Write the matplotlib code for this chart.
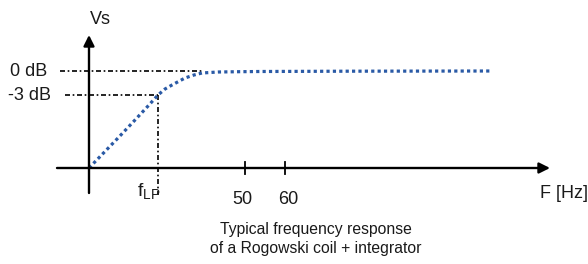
import matplotlib.pyplot as plt

plt.rcParams['font.family'] = ['Liberation Sans', 'DejaVu Sans']
plt.rcParams['mathtext.fontset'] = 'custom'
plt.rcParams['mathtext.rm'] = 'Liberation Sans'

# schematic response curve (arbitrary units, origin at the axes crossing)
freq = [0, 29, 46, 60, 69, 76, 83, 96, 105, 113, 129, 150, 171, 260, 401]
level = [0, 30, 48, 63, 73, 79, 83, 90, 93, 95, 96, 96.3, 96.5, 96.8, 97]

lvl_0db = 97
lvl_3db = 73
f_lp = 69
tick_pos = [156, 196]
tick_labels = ['50', '60']

fig = plt.figure(figsize=(5.88, 2.64), dpi=100)
ax = fig.add_axes([0, 0, 1, 1])
ax.set_xlim(-89, 499)
ax.set_ylim(-96, 168)
ax.axis('off')

txt = '#1a1a1a'

# axes with arrows
arrow = dict(arrowstyle='-|>', lw=1.7, color='black', mutation_scale=16,
             shrinkA=0, shrinkB=0)
ax.annotate('', xy=(461, 0), xytext=(-32, 0), arrowprops=arrow)
ax.annotate('', xy=(0, 133), xytext=(0, -25), arrowprops=arrow)

for p in tick_pos:
    ax.plot([p, p], [-6, 6], color='black', lw=1.3)
ax.text(153, -32, tick_labels[0], ha='center', va='center', fontsize=13, color=txt)
ax.text(199, -32, tick_labels[1], ha='center', va='center', fontsize=13, color=txt)

# reference lines
dd = (0, (3, 1.6, 1, 1.6))
ax.plot([-29, 114], [lvl_0db, lvl_0db], color='black', lw=1.2, linestyle=dd)
ax.plot([-24, f_lp], [lvl_3db, lvl_3db], color='black', lw=1.2, linestyle=dd)
ax.plot([f_lp, f_lp], [lvl_3db, -27], color='black', lw=1.2, linestyle=dd)

# response
ax.plot(freq, level, color='#2a5aa6', lw=2.3, linestyle=(0, (1, 1)))

ax.text(-79, lvl_0db, '0 dB', ha='left', va='center', fontsize=13, color=txt)
ax.text(-81, lvl_3db, '-3 dB', ha='left', va='center', fontsize=13, color=txt)
ax.text(11, 149, 'Vs', ha='center', va='center', fontsize=13, color=txt)
ax.text(48, -24, r'$\mathrm{f}_{\mathrm{LP}}$', ha='left', va='center', fontsize=14, color=txt)
ax.text(451, -25, 'F [Hz]', ha='left', va='center', fontsize=13, color=txt)
ax.text(227, -71, 'Typical frequency response\nof a Rogowski coil + integrator',
        ha='center', va='center', fontsize=11.3, linespacing=1.35, color=txt)

fig.savefig('out.png', dpi=100)
